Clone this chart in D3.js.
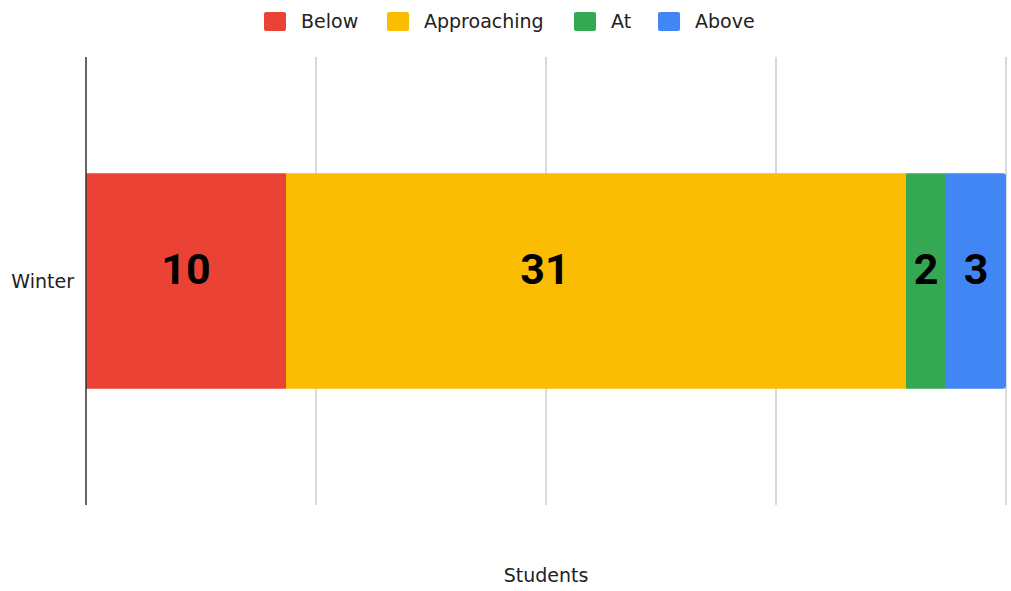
<!DOCTYPE html>
<html>
<head>
<meta charset="utf-8">
<script src="https://cdn.jsdelivr.net/npm/d3@7"></script>
<style>
  body { margin: 0; background: #fff; }
  text { font-family: "DejaVu Sans", sans-serif; }
</style>
</head>
<body>
<div id="chart"></div>
<script>
// data
var categories = ["Winter"];
var seriesNames = ["Below", "Approaching", "At", "Above"];
var seriesColors = ["#ea4335", "#fbbc04", "#34a853", "#4285f4"];
var belowValues = [10];
var approachingValues = [31];
var atValues = [2];
var aboveValues = [3];
var xAxisTitle = "Students";

var width = 1011, height = 591;
var margin = {top: 57, right: 5, bottom: 86, left: 86};

var svg = d3.select("#chart")
  .append("svg")
    .attr("width", width)
    .attr("height", height);

// build rows for the stack
var rows = categories.map(function(c, i) {
  return {cat: c, Below: belowValues[i], Approaching: approachingValues[i], At: atValues[i], Above: aboveValues[i]};
});
var stack = d3.stack().keys(seriesNames)(rows);
var total = d3.max(rows, function(r) { return r.Below + r.Approaching + r.At + r.Above; });

var x = d3.scaleLinear()
  .domain([0, total])
  .range([margin.left, width - margin.right]);

var y = d3.scaleBand()
  .domain(categories)
  .range([margin.top, height - margin.bottom])
  .padding(0.35);

var color = d3.scaleOrdinal().domain(seriesNames).range(seriesColors);

// gridlines (no labels)
var gridTicks = d3.range(1, 5).map(function(i) { return total * i / 4; });
svg.append("g")
  .selectAll("line")
  .data(gridTicks)
  .enter().append("line")
    .attr("x1", function(d) { return x(d); })
    .attr("x2", function(d) { return x(d); })
    .attr("y1", margin.top)
    .attr("y2", height - margin.bottom)
    .attr("stroke", "#cccccc")
    .attr("stroke-width", 1.5);

// bars, last segment with a slightly rounded right end
var lastKey = seriesNames[seriesNames.length - 1];
var layer = svg.append("g")
  .selectAll("g")
  .data(stack)
  .enter().append("g")
    .attr("fill", function(d) { return color(d.key); });

layer.selectAll("path")
  .data(function(d) { return d.map(function(p) { p.key = d.key; return p; }); })
  .enter().append("path")
    .attr("d", function(d) {
      var x0 = x(d[0]), x1 = x(d[1]), y0 = y(d.data.cat), h = y.bandwidth();
      var r = d.key === lastKey ? 3 : 0;
      return "M" + x0 + "," + y0 + "H" + (x1 - r) + "Q" + x1 + "," + y0 + " " + x1 + "," + (y0 + r) +
        "V" + (y0 + h - r) + "Q" + x1 + "," + (y0 + h) + " " + (x1 - r) + "," + (y0 + h) + "H" + x0 + "Z";
    });

// data labels (the wide middle label sits left of centre in the original)
var labelShift = {Approaching: -51};
var labels = svg.append("g");
stack.forEach(function(s) {
  labels.selectAll(null)
    .data(s)
    .enter().append("text")
      .attr("x", function(d) { return (x(d[0]) + x(d[1])) / 2 + (labelShift[s.key] || 0); })
      .attr("y", function(d) { return y(d.data.cat) + y.bandwidth() / 2 + 3; })
      .attr("text-anchor", "middle")
      .attr("fill", "#000")
      .style("font-family", "Roboto, sans-serif")
      .style("font-weight", "bold")
      .style("font-size", "43px")
      .text(function(d) { return d[1] - d[0]; });
});

// y axis line
svg.append("line")
  .attr("x1", margin.left)
  .attr("x2", margin.left)
  .attr("y1", margin.top)
  .attr("y2", height - margin.bottom)
  .attr("stroke", "#333")
  .attr("stroke-width", 1.5);

// category labels
svg.append("g")
  .selectAll("text")
  .data(categories)
  .enter().append("text")
    .attr("x", margin.left - 12)
    .attr("y", function(d) { return y(d) + y.bandwidth() / 2; })
    .attr("dy", "0.35em")
    .attr("text-anchor", "end")
    .attr("fill", "#222")
    .style("font-size", "19px")
    .text(function(d) { return d; });

// x axis title
svg.append("text")
  .attr("x", (margin.left + width - margin.right) / 2)
  .attr("y", 582)
  .attr("text-anchor", "middle")
  .attr("fill", "#222")
  .style("font-size", "19px")
  .text(xAxisTitle);

// legend
var legendX = [264, 387, 574, 658];
var legend = svg.append("g")
  .selectAll("g")
  .data(seriesNames)
  .enter().append("g")
    .attr("transform", function(d, i) { return "translate(" + legendX[i] + ",12)"; });

legend.append("rect")
  .attr("width", 22)
  .attr("height", 19)
  .attr("rx", 2)
  .attr("fill", function(d) { return color(d); });

legend.append("text")
  .attr("x", 37)
  .attr("y", 16)
  .attr("fill", "#222")
  .style("font-size", "19px")
  .text(function(d) { return d; });
</script>
</body>
</html>
